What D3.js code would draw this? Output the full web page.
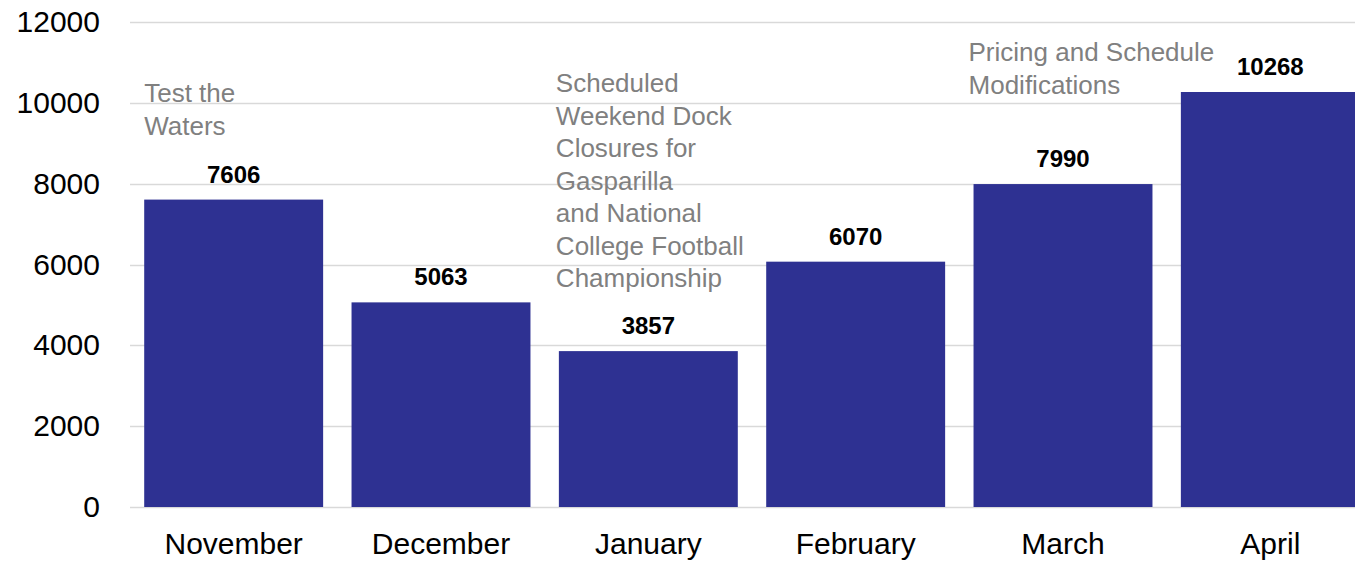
<!DOCTYPE html>
<html>
<head>
<meta charset="utf-8">
<script src="https://cdn.jsdelivr.net/npm/d3@7"></script>
<style>
  html, body { margin: 0; padding: 0; background: #ffffff; }
  svg { display: block; }
  text { font-family: "Liberation Sans", Arial, sans-serif; }
</style>
</head>
<body>
<svg id="chart" width="1355" height="562"></svg>
<script>
// Monthly totals
const months = ["November", "December", "January", "February", "March", "April"];
const totals = [7606, 5063, 3857, 6070, 7990, 10268];

// Y axis ticks
const yTicks = [0, 2000, 4000, 6000, 8000, 10000, 12000];

// Notes shown above selected months
const noteMonths = ["November", "January", "March"];
const noteLines = [
  ["Test the", "Waters"],
  ["Scheduled", "Weekend Dock", "Closures for", "Gasparilla", "and National", "College Football", "Championship"],
  ["Pricing and Schedule", "Modifications"]
];

const W = 1355, H = 562;
const svg = d3.select("#chart");

const x = d3.scaleBand()
  .domain(months)
  .range([130, 1374])
  .paddingInner(0.137)
  .paddingOuter(0.0685);

const y = d3.scaleLinear()
  .domain([0, 12000])
  .range([507, 22]);

// Gridlines
svg.append("g")
  .selectAll("line")
  .data(yTicks)
  .join("line")
  .attr("x1", 130)
  .attr("x2", W)
  .attr("y1", d => Math.round(y(d)) + 0.5)
  .attr("y2", d => Math.round(y(d)) + 0.5)
  .attr("stroke", "#d9d9d9")
  .attr("stroke-width", 1.3);

// Y axis labels
const yAxis = d3.axisLeft(y).tickValues(yTicks).tickSize(0).tickPadding(0).tickFormat(d3.format("d"));
svg.append("g")
  .attr("transform", "translate(100,0)")
  .call(yAxis)
  .call(g => g.select(".domain").remove())
  .call(g => g.selectAll("text")
    .attr("font-size", 30)
    .attr("font-family", "Liberation Sans, Arial, sans-serif")
    .attr("fill", "#000"));

// Bars
svg.append("g")
  .selectAll("rect")
  .data(months)
  .join("rect")
  .attr("x", d => x(d))
  .attr("width", x.bandwidth())
  .attr("y", (d, i) => y(totals[i]))
  .attr("height", (d, i) => y(0) - y(totals[i]))
  .attr("fill", "#2e3192");

// X axis labels
const xAxis = d3.axisBottom(x).tickSize(0).tickPadding(0);
svg.append("g")
  .attr("transform", "translate(0,507)")
  .call(xAxis)
  .call(g => g.select(".domain").remove())
  .call(g => g.selectAll("text")
    .attr("dy", null)
    .attr("y", 47)
    .attr("font-size", 30)
    .attr("font-family", "Liberation Sans, Arial, sans-serif")
    .attr("fill", "#000"));

// Value labels
svg.append("g")
  .selectAll("text")
  .data(months)
  .join("text")
  .attr("x", d => x(d) + x.bandwidth() / 2)
  .attr("y", (d, i) => y(totals[i]) - 17)
  .attr("text-anchor", "middle")
  .attr("font-size", 24)
  .attr("font-weight", "bold")
  .attr("fill", "#000")
  .text((d, i) => totals[i]);

// Notes
const noteLayout = [
  { dx: 0, top: 102 },
  { dx: -3, top: 92 },
  { dx: -5, top: 61 }
];
const lineH = 32.5;
noteMonths.forEach((m, i) => {
  const t = svg.append("text")
    .attr("x", x(m) + noteLayout[i].dx)
    .attr("y", noteLayout[i].top)
    .attr("font-size", 26)
    .attr("fill", "#808080");
  noteLines[i].forEach((line, j) => {
    t.append("tspan")
      .attr("x", x(m) + noteLayout[i].dx)
      .attr("y", noteLayout[i].top + j * lineH)
      .text(line);
  });
});
</script>
</body>
</html>
